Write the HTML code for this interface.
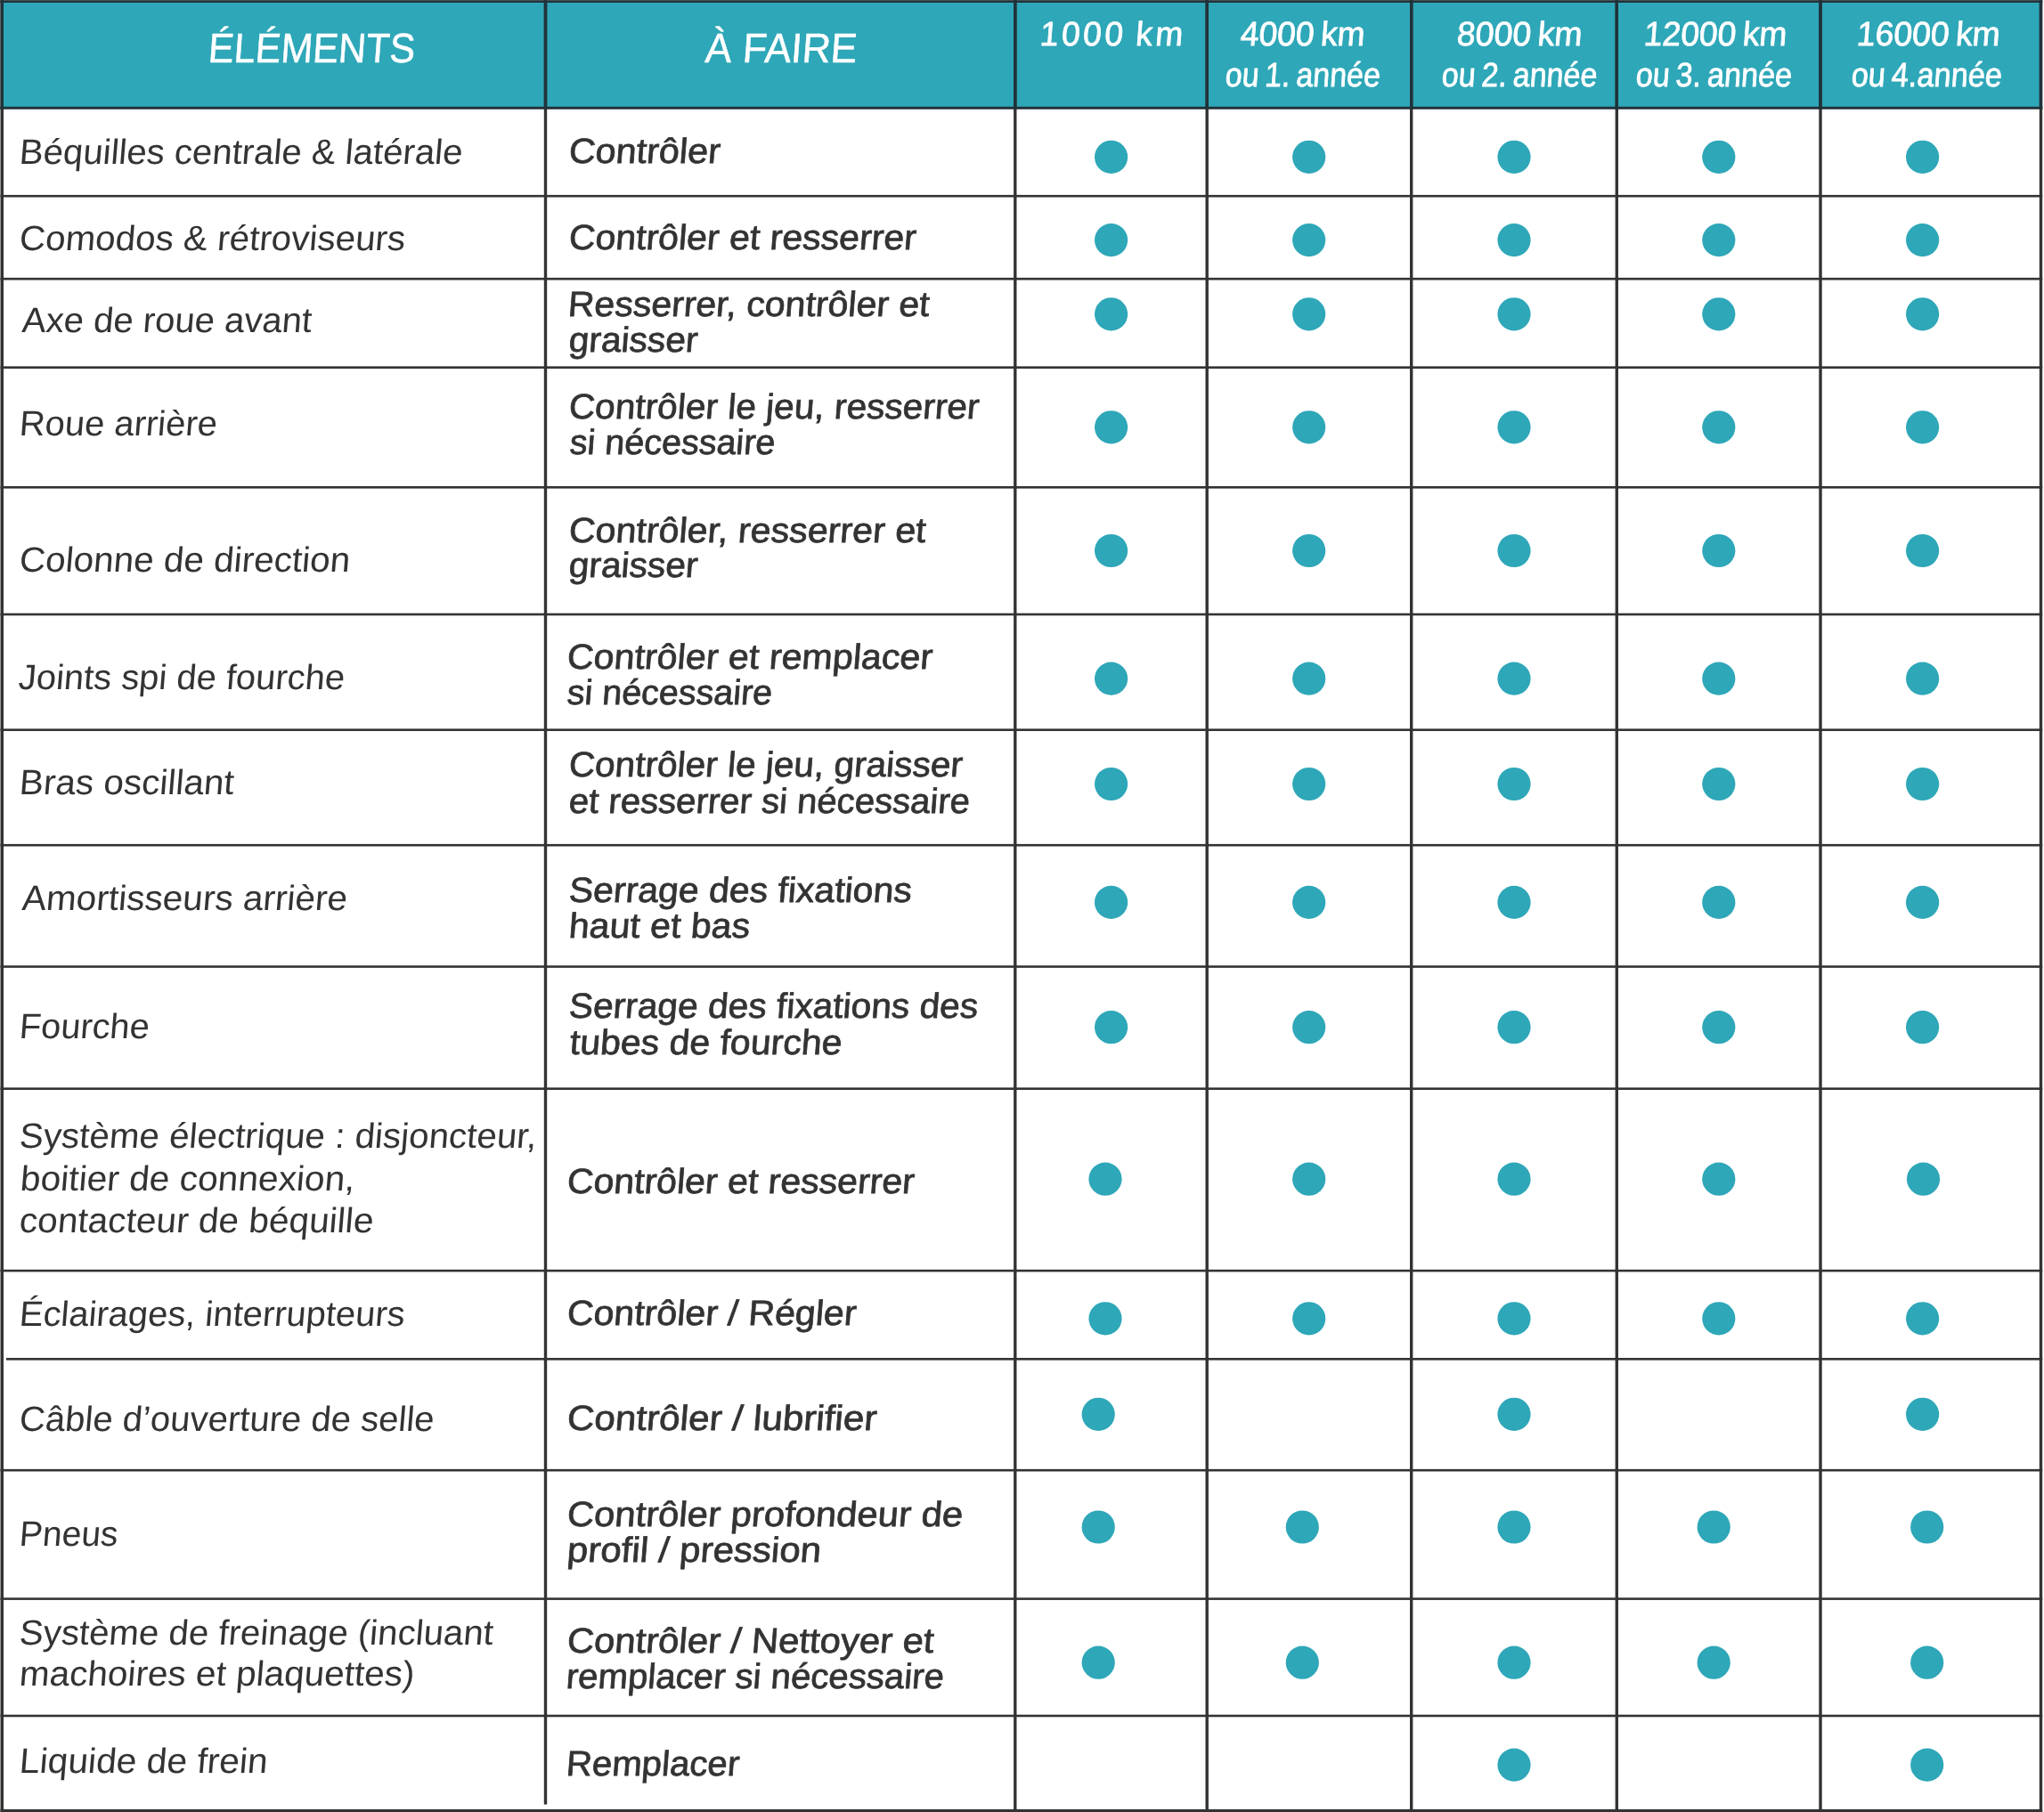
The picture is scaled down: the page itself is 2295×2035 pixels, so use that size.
<!DOCTYPE html>
<html lang="fr"><head><meta charset="utf-8"><title>Plan d'entretien</title>
<style>
html,body{margin:0;padding:0;background:#fff}
body{width:2295px;height:2035px;position:relative;overflow:hidden;font-family:"Liberation Sans",sans-serif;color:#333333}
svg{position:absolute;left:0;top:0;display:block}
#txt{position:absolute;left:0;top:0;width:2295px;height:2035px;will-change:transform}
.t{position:absolute;white-space:nowrap;line-height:1;transform-origin:0 0;font-style:normal;font-weight:400;margin:0}
.h{font-size:46.4px;color:#fff;-webkit-text-stroke:0.5px #fff}
.k{font-size:38.0px;color:#fff;-webkit-text-stroke:0.8px #fff;word-spacing:-3.0px}
.a{font-size:39.5px;color:#333333;-webkit-text-stroke:0px #333333}
.b{font-size:39.5px;color:#333333;-webkit-text-stroke:0.75px #333333}
</style></head><body>
<svg width="2295" height="2035" viewBox="0 0 2295 2035">
<rect x="0" y="0" width="2295" height="2035" fill="#fff"/>
<rect x="1" y="1" width="2290" height="120" fill="#2ea7b8"/>
<g fill="#333333">
<rect x="0.5" y="0" width="3.5" height="2035"/>
<rect x="610.8" y="0" width="3.4" height="2026.5"/>
<rect x="1138.1" y="0" width="3.4" height="2035"/>
<rect x="1353.5" y="0" width="3.4" height="2035"/>
<rect x="1583" y="0" width="3.4" height="2035"/>
<rect x="1813.6" y="0" width="3.4" height="2035"/>
<rect x="2042.3" y="0" width="3.4" height="2035"/>
<rect x="2289.8" y="0.4" width="3.4" height="2034.6"/>
<rect x="0.5" y="0.4" width="2292.7" height="2.6"/>
<rect x="0.5" y="119.9" width="2292.7" height="2.6"/>
<rect x="0.5" y="218.9" width="2292.7" height="2.6"/>
<rect x="0.5" y="311.9" width="2292.7" height="2.6"/>
<rect x="0.5" y="411.4" width="2292.7" height="2.6"/>
<rect x="0.5" y="546" width="2292.7" height="2.6"/>
<rect x="0.5" y="688.7" width="2292.7" height="2.6"/>
<rect x="0.5" y="818.4" width="2292.7" height="2.6"/>
<rect x="0.5" y="947.9" width="2292.7" height="2.6"/>
<rect x="0.5" y="1084.3" width="2292.7" height="2.6"/>
<rect x="0.5" y="1221.4" width="2292.7" height="2.6"/>
<rect x="0.5" y="1425.8" width="2292.7" height="2.6"/>
<rect x="7" y="1525" width="2286.2" height="2.6"/>
<rect x="0.5" y="1649.9" width="2292.7" height="2.6"/>
<rect x="0.5" y="1794.3" width="2292.7" height="2.6"/>
<rect x="0.5" y="1925.7" width="2292.7" height="2.6"/>
<rect x="0.5" y="2031.9" width="2292.7" height="3.1"/>
</g>
<g fill="#20323a">
<rect x="0.5" y="0.4" width="3.5" height="122"/>
<rect x="610.8" y="0.4" width="3.4" height="122"/>
<rect x="1138.1" y="0.4" width="3.4" height="122"/>
<rect x="1353.5" y="0.4" width="3.4" height="122"/>
<rect x="1583" y="0.4" width="3.4" height="122"/>
<rect x="1813.6" y="0.4" width="3.4" height="122"/>
<rect x="2042.3" y="0.4" width="3.4" height="122"/>
<rect x="2289.8" y="0.4" width="3.4" height="122"/>
<rect x="0.5" y="0.4" width="2292.7" height="2.6"/>
<rect x="0.5" y="119.9" width="2292.7" height="2.6"/>
</g>
<g fill="#2ea7b8">
<circle cx="1247.6" cy="176.3" r="18.6"/>
<circle cx="1469.7" cy="176.3" r="18.6"/>
<circle cx="1700" cy="176.3" r="18.6"/>
<circle cx="1929.8" cy="176.3" r="18.6"/>
<circle cx="2158.6" cy="176.3" r="18.6"/>
<circle cx="1247.6" cy="269.6" r="18.6"/>
<circle cx="1469.7" cy="269.6" r="18.6"/>
<circle cx="1700" cy="269.6" r="18.6"/>
<circle cx="1929.8" cy="269.6" r="18.6"/>
<circle cx="2158.6" cy="269.6" r="18.6"/>
<circle cx="1247.6" cy="352.8" r="18.6"/>
<circle cx="1469.7" cy="352.8" r="18.6"/>
<circle cx="1700" cy="352.8" r="18.6"/>
<circle cx="1929.8" cy="352.8" r="18.6"/>
<circle cx="2158.6" cy="352.8" r="18.6"/>
<circle cx="1247.6" cy="479.8" r="18.6"/>
<circle cx="1469.7" cy="479.8" r="18.6"/>
<circle cx="1700" cy="479.8" r="18.6"/>
<circle cx="1929.8" cy="479.8" r="18.6"/>
<circle cx="2158.6" cy="479.8" r="18.6"/>
<circle cx="1247.6" cy="618.5" r="18.6"/>
<circle cx="1469.7" cy="618.5" r="18.6"/>
<circle cx="1700" cy="618.5" r="18.6"/>
<circle cx="1929.8" cy="618.5" r="18.6"/>
<circle cx="2158.6" cy="618.5" r="18.6"/>
<circle cx="1247.6" cy="762.1" r="18.6"/>
<circle cx="1469.7" cy="762.1" r="18.6"/>
<circle cx="1700" cy="762.1" r="18.6"/>
<circle cx="1929.8" cy="762.1" r="18.6"/>
<circle cx="2158.6" cy="762.1" r="18.6"/>
<circle cx="1247.6" cy="880.5" r="18.6"/>
<circle cx="1469.7" cy="880.5" r="18.6"/>
<circle cx="1700" cy="880.5" r="18.6"/>
<circle cx="1929.8" cy="880.5" r="18.6"/>
<circle cx="2158.6" cy="880.5" r="18.6"/>
<circle cx="1247.6" cy="1013.4" r="18.6"/>
<circle cx="1469.7" cy="1013.4" r="18.6"/>
<circle cx="1700" cy="1013.4" r="18.6"/>
<circle cx="1929.8" cy="1013.4" r="18.6"/>
<circle cx="2158.6" cy="1013.4" r="18.6"/>
<circle cx="1247.6" cy="1153.7" r="18.6"/>
<circle cx="1469.7" cy="1153.7" r="18.6"/>
<circle cx="1700" cy="1153.7" r="18.6"/>
<circle cx="1929.8" cy="1153.7" r="18.6"/>
<circle cx="2158.6" cy="1153.7" r="18.6"/>
<circle cx="1241" cy="1324.2" r="18.6"/>
<circle cx="1469.7" cy="1324.2" r="18.6"/>
<circle cx="1700" cy="1324.2" r="18.6"/>
<circle cx="1929.8" cy="1324.2" r="18.6"/>
<circle cx="2159.5" cy="1324.2" r="18.6"/>
<circle cx="1241" cy="1480.8" r="18.6"/>
<circle cx="1469.7" cy="1480.8" r="18.6"/>
<circle cx="1700" cy="1480.8" r="18.6"/>
<circle cx="1929.8" cy="1480.8" r="18.6"/>
<circle cx="2158.6" cy="1480.8" r="18.6"/>
<circle cx="1233.2" cy="1588.3" r="18.6"/>
<circle cx="1700" cy="1588.3" r="18.6"/>
<circle cx="2158.6" cy="1588.3" r="18.6"/>
<circle cx="1233.2" cy="1715" r="18.6"/>
<circle cx="1462.3" cy="1715" r="18.6"/>
<circle cx="1700" cy="1715" r="18.6"/>
<circle cx="1924.2" cy="1715" r="18.6"/>
<circle cx="2163.7" cy="1715" r="18.6"/>
<circle cx="1233.2" cy="1867.2" r="18.6"/>
<circle cx="1462.3" cy="1867.2" r="18.6"/>
<circle cx="1700" cy="1867.2" r="18.6"/>
<circle cx="1924.2" cy="1867.2" r="18.6"/>
<circle cx="2163.7" cy="1867.2" r="18.6"/>
<circle cx="1700" cy="1982.1" r="18.6"/>
<circle cx="2163.7" cy="1982.1" r="18.6"/>
</g></svg>
<div id="txt">
<div class="t h" style="left:233.21px;top:31px;transform-origin:0 39px;transform:scaleX(0.9289) skewX(-4.3deg)">ÉLÉMENTS</div>
<div class="t h" style="left:791px;top:31px;transform-origin:0 39px;transform:scaleX(0.9579) skewX(-4.3deg)">À FAIRE</div>
<div class="t k" style="letter-spacing:3.55px;left:1166.84px;top:19px;transform-origin:0 32px;transform:scaleX(0.9776) skewX(-4.5deg)">1000 km</div>
<div class="t k" style="left:1392.42px;top:19px;transform-origin:0 32px;transform:scaleX(0.9787) skewX(-4.5deg)">4000 km</div>
<div class="t k" style="left:1375.01px;top:65.1px;transform-origin:0 32px;transform:scaleX(0.8943) skewX(-4.5deg)">ou 1. année</div>
<div class="t k" style="left:1634.73px;top:19px;transform-origin:0 32px;transform:scaleX(0.9864) skewX(-4.5deg)">8000 km</div>
<div class="t k" style="left:1618.41px;top:65.1px;transform-origin:0 32px;transform:scaleX(0.8974) skewX(-4.5deg)">ou 2. année</div>
<div class="t k" style="left:1844.64px;top:19px;transform-origin:0 32px;transform:scaleX(0.9795) skewX(-4.5deg)">12000 km</div>
<div class="t k" style="left:1836.4px;top:65.1px;transform-origin:0 32px;transform:scaleX(0.9005) skewX(-4.5deg)">ou 3. année</div>
<div class="t k" style="left:2083.54px;top:19px;transform-origin:0 32px;transform:scaleX(0.9820) skewX(-4.5deg)">16000 km</div>
<div class="t k" style="left:2078.39px;top:65.1px;transform-origin:0 32px;transform:scaleX(0.9038) skewX(-4.5deg)">ou 4.année</div>
<div class="t a" style="left:21.25px;top:150.9px;transform-origin:0 33px;transform:scaleX(1.0160) skewX(-4.5deg)">Béquilles centrale &amp; latérale</div>
<div class="t a" style="left:20.63px;top:247.8px;transform-origin:0 33px;transform:scaleX(1.0226) skewX(-4.5deg)">Comodos &amp; rétroviseurs</div>
<div class="t a" style="left:23.7px;top:340px;transform-origin:0 33px;transform:scaleX(1.0143) skewX(-4.5deg)">Axe de roue avant</div>
<div class="t a" style="left:20.67px;top:455.8px;transform-origin:0 33px;transform:scaleX(1.0106) skewX(-4.5deg)">Roue arrière</div>
<div class="t a" style="left:20.63px;top:609px;transform-origin:0 33px;transform:scaleX(1.0243) skewX(-4.5deg)">Colonne de direction</div>
<div class="t a" style="left:20.19px;top:740.7px;transform-origin:0 33px;transform:scaleX(1.0108) skewX(-4.5deg)">Joints spi de fourche</div>
<div class="t a" style="left:20.63px;top:859px;transform-origin:0 33px;transform:scaleX(1.0245) skewX(-4.5deg)">Bras oscillant</div>
<div class="t a" style="left:23.7px;top:989.4px;transform-origin:0 33px;transform:scaleX(1.0270) skewX(-4.5deg)">Amortisseurs arrière</div>
<div class="t a" style="left:21.28px;top:1133.2px;transform-origin:0 33px;transform:scaleX(1.0064) skewX(-4.5deg)">Fourche</div>
<div class="t a" style="left:21.06px;top:1255.7px;transform-origin:0 33px;transform:scaleX(1.0213) skewX(-4.5deg)">Système électrique : disjoncteur,</div>
<div class="t a" style="left:21.64px;top:1303.6px;transform-origin:0 33px;transform:scaleX(1.0306) skewX(-4.5deg)">boitier de connexion,</div>
<div class="t a" style="left:21.04px;top:1350.6px;transform-origin:0 33px;transform:scaleX(1.0284) skewX(-4.5deg)">contacteur de béquille</div>
<div class="t a" style="left:20.67px;top:1456.2px;transform-origin:0 33px;transform:scaleX(1.0106) skewX(-4.5deg)">Éclairages, interrupteurs</div>
<div class="t a" style="left:20.66px;top:1573.8px;transform-origin:0 33px;transform:scaleX(1.0145) skewX(-4.5deg)">Câble d’ouverture de selle</div>
<div class="t a" style="left:21.34px;top:1703px;transform-origin:0 33px;transform:scaleX(0.9872) skewX(-4.5deg)">Pneus</div>
<div class="t a" style="left:21.06px;top:1814px;transform-origin:0 33px;transform:scaleX(1.0180) skewX(-4.5deg)">Système de freinage (incluant</div>
<div class="t a" style="left:20.62px;top:1860.1px;transform-origin:0 33px;transform:scaleX(1.0255) skewX(-4.5deg)">machoires et plaquettes)</div>
<div class="t a" style="left:21.2px;top:1958px;transform-origin:0 33px;transform:scaleX(1.0320) skewX(-4.5deg)">Liquide de frein</div>
<div class="t b" style="left:638.41px;top:150.4px;transform-origin:0 33px;transform:scaleX(1.0469) skewX(-4.2deg)">Contrôler</div>
<div class="t b" style="left:638.42px;top:246.8px;transform-origin:0 33px;transform:scaleX(1.0389) skewX(-4.2deg)">Contrôler et resserrer</div>
<div class="t b" style="left:637.39px;top:321.6px;transform-origin:0 33px;transform:scaleX(1.0383) skewX(-4.2deg)">Resserrer, contrôler et</div>
<div class="t b" style="left:637.94px;top:361.6px;transform-origin:0 33px;transform:scaleX(1.0293) skewX(-4.2deg)">graisser</div>
<div class="t b" style="left:638.44px;top:436.6px;transform-origin:0 33px;transform:scaleX(1.0286) skewX(-4.2deg)">Contrôler le jeu, resserrer</div>
<div class="t b" style="left:639px;top:476.8px;transform-origin:0 33px;transform:scaleX(1.0000) skewX(-4.2deg)">si nécessaire</div>
<div class="t b" style="left:638.41px;top:575.5px;transform-origin:0 33px;transform:scaleX(1.0432) skewX(-4.2deg)">Contrôler, resserrer et</div>
<div class="t b" style="left:637.94px;top:615.2px;transform-origin:0 33px;transform:scaleX(1.0293) skewX(-4.2deg)">graisser</div>
<div class="t b" style="left:635.71px;top:717.9px;transform-origin:0 33px;transform:scaleX(1.0441) skewX(-4.2deg)">Contrôler et remplacer</div>
<div class="t b" style="left:636px;top:757.7px;transform-origin:0 33px;transform:scaleX(0.9991) skewX(-4.2deg)">si nécessaire</div>
<div class="t b" style="left:638.45px;top:838.9px;transform-origin:0 33px;transform:scaleX(1.0272) skewX(-4.2deg)">Contrôler le jeu, graisser</div>
<div class="t b" style="left:637.97px;top:879.5px;transform-origin:0 33px;transform:scaleX(1.0152) skewX(-4.2deg)">et resserrer si nécessaire</div>
<div class="t b" style="left:638.43px;top:979.5px;transform-origin:0 33px;transform:scaleX(1.0374) skewX(-4.2deg)">Serrage des fixations</div>
<div class="t b" style="left:638.42px;top:1019.7px;transform-origin:0 33px;transform:scaleX(1.0394) skewX(-4.2deg)">haut et bas</div>
<div class="t b" style="left:638.44px;top:1110.4px;transform-origin:0 33px;transform:scaleX(1.0306) skewX(-4.2deg)">Serrage des fixations des</div>
<div class="t b" style="left:639.46px;top:1150.7px;transform-origin:0 33px;transform:scaleX(1.0382) skewX(-4.2deg)">tubes de fourche</div>
<div class="t b" style="left:635.72px;top:1307.3px;transform-origin:0 33px;transform:scaleX(1.0389) skewX(-4.2deg)">Contrôler et resserrer</div>
<div class="t b" style="left:635.72px;top:1454.7px;transform-origin:0 33px;transform:scaleX(1.0412) skewX(-4.2deg)">Contrôler / Régler</div>
<div class="t b" style="left:635.66px;top:1573px;transform-origin:0 33px;transform:scaleX(1.0698) skewX(-4.2deg)">Contrôler / lubrifier</div>
<div class="t b" style="left:635.68px;top:1680.8px;transform-origin:0 33px;transform:scaleX(1.0592) skewX(-4.2deg)">Contrôler profondeur de</div>
<div class="t b" style="left:635.67px;top:1720.8px;transform-origin:0 33px;transform:scaleX(1.0649) skewX(-4.2deg)">profil / pression</div>
<div class="t b" style="left:635.68px;top:1822.7px;transform-origin:0 33px;transform:scaleX(1.0593) skewX(-4.2deg)">Contrôler / Nettoyer et</div>
<div class="t b" style="left:635.27px;top:1863px;transform-origin:0 33px;transform:scaleX(1.0166) skewX(-4.2deg)">remplacer si nécessaire</div>
<div class="t b" style="left:634.75px;top:1961.4px;transform-origin:0 33px;transform:scaleX(1.0175) skewX(-4.2deg)">Remplacer</div>
</div>
</body></html>
